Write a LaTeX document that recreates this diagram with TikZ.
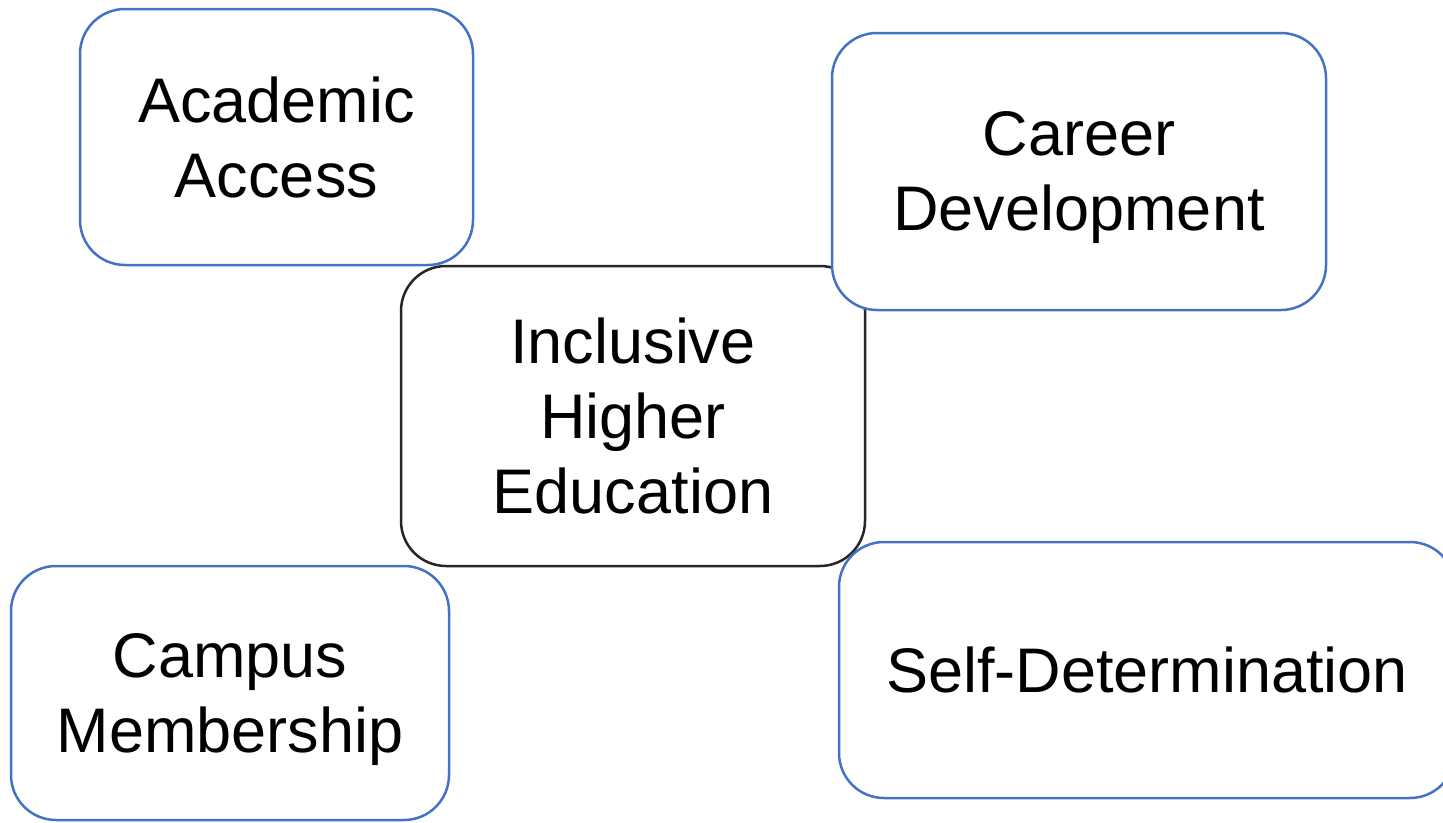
\documentclass[tikz,border=0pt]{standalone}
\usepackage{fontspec}
\setmainfont{Liberation Sans}
\definecolor{boxblue}{HTML}{4472C4}
\definecolor{boxdark}{HTML}{262626}
\newcommand{\nodepth}[1]{\raisebox{0pt}[\height][0pt]{#1}}
\begin{document}
\begin{tikzpicture}[x=1pt,y=-1pt,
  card/.style={draw=boxblue,fill=white,line width=2.5pt,rounded corners=45pt,
    inner sep=0pt,align=center,font=\fontsize{63}{75}\selectfont},
  hub/.style={card,draw=boxdark}]
\useasboundingbox (0,0) rectangle (1443,822);
\node[hub,minimum width=464pt,minimum height=300pt] (ihe) at (633,416) {Inclusive\\Higher\\Education};
\node[card,minimum width=393pt,minimum height=256pt] (aa) at (276.5,137) {Academic\\Access};
\node[card,minimum width=494pt,minimum height=277pt] (cd) at (1079,171.5) {Career\\\nodepth{Development}};
\node[card,minimum width=438pt,minimum height=254pt] (cm) at (230,693) {Campus\\\nodepth{Membership}};
\node[card,minimum width=616pt,minimum height=256pt] (sd) at (1147,670) {Self-Determination};
\end{tikzpicture}
\end{document}
